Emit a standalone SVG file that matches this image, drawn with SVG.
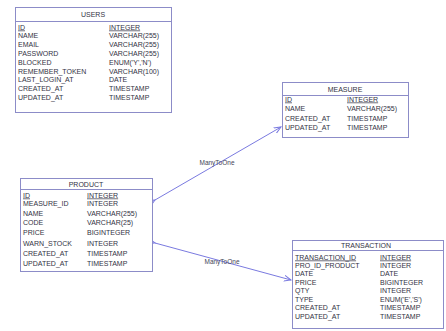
<svg xmlns="http://www.w3.org/2000/svg" width="446" height="331" viewBox="0 0 446 331">
<defs>
<style>
.box{fill:#ffffff;stroke:#8c8cc8;stroke-width:1}
.sep{stroke:#8c8cc8;stroke-width:1}
text{font-family:"Liberation Sans",Arial,sans-serif;font-size:7px;fill:#333344}
.h{text-anchor:middle}
.pk{text-decoration:underline}
.con{stroke:#7a7ae0;stroke-width:1;fill:none}
.lbl{font-size:6.5px;fill:#444455;text-anchor:middle}
</style>
<marker id="arr" markerWidth="8" markerHeight="8" refX="7" refY="4" orient="auto" markerUnits="userSpaceOnUse">
<path d="M0,1 L7,4 L0,7" fill="none" stroke="#7a7ae0" stroke-width="1"/>
</marker>
</defs>
<rect width="446" height="331" fill="#ffffff"/>
<g id="connectors">
<line class="con" x1="155" y1="200" x2="281" y2="127" marker-start="url(#arr)" marker-end="url(#arr)"/>
<text class="lbl" x="217" y="165">ManyToOne</text>
<line class="con" x1="155" y1="243" x2="291" y2="280" marker-start="url(#arr)" marker-end="url(#arr)"/>
<text class="lbl" x="222" y="264">ManyToOne</text>
</g>
<g id="users">
<rect class="box" x="15.5" y="7.5" width="156" height="105"/>
<line class="sep" x1="15.5" y1="21.5" x2="171.5" y2="21.5"/>
<text class="h" x="93" y="17">USERS</text>
<text x="18" y="29.5" class="pk">ID</text><text x="109" y="29.5" class="pk">INTEGER</text>
<text x="18" y="38.3">NAME</text><text x="109" y="38.3">VARCHAR(255)</text>
<text x="18" y="47.1">EMAIL</text><text x="109" y="47.1">VARCHAR(255)</text>
<text x="18" y="55.9">PASSWORD</text><text x="109" y="55.9">VARCHAR(255)</text>
<text x="18" y="64.7">BLOCKED</text><text x="109" y="64.7">ENUM('Y','N')</text>
<text x="18" y="73.5">REMEMBER_TOKEN</text><text x="109" y="73.5">VARCHAR(100)</text>
<text x="18" y="82.3">LAST_LOGIN_AT</text><text x="109" y="82.3">DATE</text>
<text x="18" y="91.1">CREATED_AT</text><text x="109" y="91.1">TIMESTAMP</text>
<text x="18" y="99.9">UPDATED_AT</text><text x="109" y="99.9">TIMESTAMP</text>
</g>
<g id="measure">
<rect class="box" x="282.5" y="82.5" width="126" height="55"/>
<line class="sep" x1="282.5" y1="95.5" x2="408.5" y2="95.5"/>
<text class="h" x="345" y="91.5">MEASURE</text>
<text x="285" y="101.5" class="pk">ID</text><text x="347" y="101.5" class="pk">INTEGER</text>
<text x="285" y="111">NAME</text><text x="347" y="111">VARCHAR(255)</text>
<text x="285" y="120.5">CREATED_AT</text><text x="347" y="120.5">TIMESTAMP</text>
<text x="285" y="130">UPDATED_AT</text><text x="347" y="130">TIMESTAMP</text>
</g>
<g id="product">
<rect class="box" x="20.5" y="178.5" width="132" height="93"/>
<line class="sep" x1="20.5" y1="189.5" x2="152.5" y2="189.5"/>
<text class="h" x="86" y="186.5">PRODUCT</text>
<text x="23" y="197.5" class="pk">ID</text><text x="87" y="197.5" class="pk">INTEGER</text>
<text x="23" y="206">MEASURE_ID</text><text x="87" y="206">INTEGER</text>
<text x="23" y="215.5">NAME</text><text x="87" y="215.5">VARCHAR(255)</text>
<text x="23" y="225">CODE</text><text x="87" y="225">VARCHAR(25)</text>
<text x="23" y="235">PRICE</text><text x="87" y="235">BIGINTEGER</text>
<text x="23" y="246">WARN_STOCK</text><text x="87" y="246">INTEGER</text>
<text x="23" y="256">CREATED_AT</text><text x="87" y="256">TIMESTAMP</text>
<text x="23" y="265.5">UPDATED_AT</text><text x="87" y="265.5">TIMESTAMP</text>
</g>
<g id="transaction">
<rect class="box" x="292.5" y="240.5" width="151" height="88"/>
<line class="sep" x1="292.5" y1="250.5" x2="443.5" y2="250.5"/>
<text class="h" x="366" y="248">TRANSACTION</text>
<text x="295" y="259.5" class="pk">TRANSACTION_ID</text><text x="380" y="259.5" class="pk">INTEGER</text>
<text x="295" y="267.7">PRO_ID_PRODUCT</text><text x="380" y="267.7">INTEGER</text>
<text x="295" y="276">DATE</text><text x="380" y="276">DATE</text>
<text x="295" y="284.5">PRICE</text><text x="380" y="284.5">BIGINTEGER</text>
<text x="295" y="293">QTY</text><text x="380" y="293">INTEGER</text>
<text x="295" y="301.5">TYPE</text><text x="380" y="301.5">ENUM('E','S')</text>
<text x="295" y="310">CREATED_AT</text><text x="380" y="310">TIMESTAMP</text>
<text x="295" y="318.5">UPDATED_AT</text><text x="380" y="318.5">TIMESTAMP</text>
</g>
</svg>
